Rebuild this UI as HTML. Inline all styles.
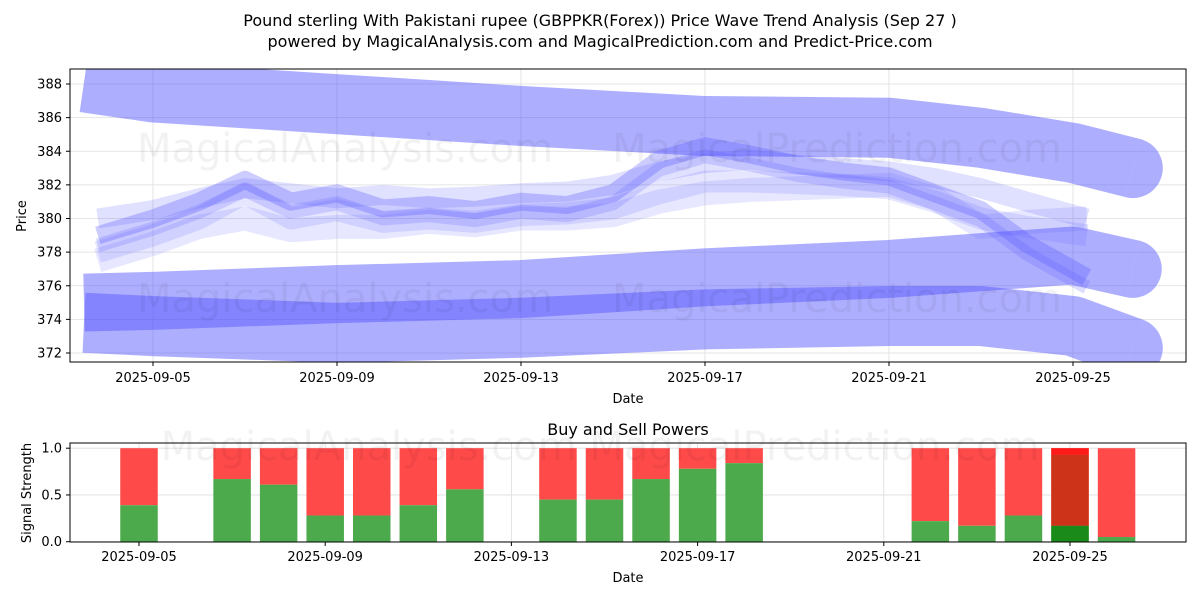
<!DOCTYPE html>
<html><head><meta charset="utf-8"><style>
body{margin:0;background:#fff;font-family:"Liberation Sans","DejaVu Sans",sans-serif}
svg text{font-family:"DejaVu Sans","Liberation Sans",sans-serif}
</style></head><body>
<svg id="c" width="1200" height="600" xmlns="http://www.w3.org/2000/svg">
<text x="600" y="26" font-size="16" text-anchor="middle">Pound sterling With Pakistani rupee (GBPPKR(Forex)) Price Wave Trend Analysis (Sep 27 )</text>
<text x="600" y="47" font-size="16" text-anchor="middle">powered by MagicalAnalysis.com and MagicalPrediction.com and Predict-Price.com</text>
<defs><clipPath id="cp1"><rect x="70" y="69" width="1116" height="293"/></clipPath></defs>
<g id="topPlot" clip-path="url(#cp1)"></g>
<g id="topAxes"></g>
<g id="bot"></g>
<text x="628" y="435" font-size="16" text-anchor="middle">Buy and Sell Powers</text>
</svg>
<script>
const NS="http://www.w3.org/2000/svg";
const bandDays=[3.5,5,9,13,17,21,23,25,26.3];
const bandA=[388.1,387.5,386.8,386.1,385.5,385.4,384.8,383.9,383];
const bandC=[375,375.1,375.5,375.8,376.5,377,377.4,377.8,377];
const bandD=[373.8,373.6,373.2,373.5,374,374.2,374.2,373.6,372.3];
const waveDays=[3.8,5,6,7,8,9,10,11,12,13,14,15,16,17,18,19,20,21,22,23,24,25.3];
const wave1=[379,380,381,382.3,381,381.5,380.6,380.8,380.5,381,380.8,381.5,383.5,384.3,383.8,383.2,382.8,382.5,381.5,380.5,378.5,376.5];
const wave2=[380,380.5,381.2,381.8,381.5,381.2,381.4,381.2,381.3,381.5,381.6,382,382.8,383.3,383.5,383.2,383,382.8,382.4,381.8,381,380];
const wave3=[378,379,380,381.5,380,380.5,379.8,380,379.8,380.2,380.3,380.6,381.5,382.2,382.2,382.1,382,381.8,381,380,379.5,379];
const wave4=[377.5,378.5,379.5,380,379.3,379.5,379.5,379.8,379.6,380,380,380.2,381,381.5,381.7,381.8,381.9,382,381.2,379.5,379.8,380];
const barDays=[5,7,8,9,10,11,12,14,15,16,17,18,22,23,24,25,26];
const buyVals=[0.39,0.67,0.61,0.28,0.28,0.39,0.56,0.45,0.45,0.67,0.78,0.84,0.22,0.17,0.28,0.17,0.05];
const yTicks=[372,374,376,378,380,382,384,386,388];
const xTickDays=[5,9,13,17,21,25];
const xTickLabels=["2025-09-05","2025-09-09","2025-09-13","2025-09-17","2025-09-21","2025-09-25"];
const bTicks=[0,0.5,1.0];
const bTickLabels=["0.0","0.5","1.0"];

const X=d=>153+(d-5)*46;
const XB=d=>139+(d-5)*46.55;
const Y=v=>84+(388-v)*269/16;
const YB=v=>541.7-v*93.5;
function el(tag,attrs,parent){const e=document.createElementNS(NS,tag);for(const k in attrs)e.setAttribute(k,attrs[k]);parent.appendChild(e);return e;}
const topG=document.getElementById('topPlot'),topAxesG=document.getElementById('topAxes'),botG=document.getElementById('bot');
yTicks.forEach(v=>{const l=el('line',{x1:70,x2:1186,y1:Y(v),y2:Y(v),stroke:'#ddd','stroke-width':0.8},topG);

});
xTickDays.forEach(d=>{const l=el('line',{x1:X(d),x2:X(d),y1:69,y2:362,stroke:'#ddd','stroke-width':0.8},topG);

});
function band(days,vals,w,op,name,capEnd){
 const p=el('polyline',{points:days.map((d,i)=>X(d)+','+Y(vals[i])).join(' '),fill:'none',stroke:'#5555ff','stroke-opacity':op,'stroke-width':w,'stroke-linejoin':'round','stroke-linecap':'butt'},topG);
 
 
 if(capEnd){const n=days.length-1;
  const c=el('path',{},topG);
  // half-disc cap at end, oriented along last segment
  const x1=X(days[n-1]),y1=Y(vals[n-1]),x2=X(days[n]),y2=Y(vals[n]);
  const L=Math.hypot(x2-x1,y2-y1),ux=(x2-x1)/L,uy=(y2-y1)/L,r=w/2;
  const ax=x2-uy*r,ay=y2+ux*r,bx=x2+uy*r,by=y2-ux*r;
  c.setAttribute('d',`M${ax},${ay} A${r},${r} 0 0 0 ${bx},${by} Z`);
  c.setAttribute('fill','#5555ff');c.setAttribute('fill-opacity',op);
  
  }
}
band(bandDays,bandA,60,0.48,'wave-band-upper',true);
band(bandDays,bandC,58,0.48,'wave-band-middle',true);
band(bandDays,bandD,60,0.48,'wave-band-lower',true);
band(waveDays,wave3,22,0.15,'wave-line-3');
band(waveDays,wave4,24,0.14,'wave-line-4');
band(waveDays,wave2,20,0.18,'wave-line-2');
band(waveDays,wave1,18,0.3,'wave-line-1');
band(waveDays,wave1.map(v=>v-0.6),14,0.2,'wave-line-5');
[[345,162],[837,162],[345,312],[837,312]].forEach((p,i)=>{const t=el('text',{x:p[0],y:p[1],'font-size':40,'text-anchor':'middle',fill:'#000','fill-opacity':0.05},topG);
t.textContent=i%2?'MagicalPrediction.com':'MagicalAnalysis.com';

});
el('rect',{x:70,y:69,width:1116,height:293,fill:'none',stroke:'#000','stroke-width':1},topAxesG);
yTicks.forEach(v=>{el('line',{x1:66,x2:70,y1:Y(v),y2:Y(v),stroke:'#000'},topAxesG);
const t=el('text',{x:62,y:Y(v)+4.5,'font-size':13,'text-anchor':'end'},topAxesG);t.textContent=v;

});
xTickDays.forEach((d,i)=>{el('line',{x1:X(d),x2:X(d),y1:362,y2:366,stroke:'#000'},topAxesG);
const t=el('text',{x:X(d),y:382,'font-size':13,'text-anchor':'middle'},topAxesG);t.textContent=xTickLabels[i];

});
let tx=el('text',{x:628,y:403,'font-size':13,'text-anchor':'middle'},topAxesG);tx.textContent='Date';


tx=el('text',{x:26,y:216,'font-size':13,'text-anchor':'middle',transform:'rotate(-90 26 216)'},topAxesG);tx.textContent='Price';


bTicks.forEach(v=>{const l=el('line',{x1:70,x2:1186,y1:YB(v),y2:YB(v),stroke:'#ddd','stroke-width':0.8},botG);

});
xTickDays.forEach(d=>{const l=el('line',{x1:XB(d),x2:XB(d),y1:443,y2:542,stroke:'#ddd','stroke-width':0.8},botG);

});
barDays.forEach((d,i)=>{const cx=XB(d),w=37.5;
 const s=el('rect',{x:cx-w/2,y:YB(1),width:w,height:YB(buyVals[i])-YB(1),fill:'#ff4a4a'},botG);
 
 
 const b=el('rect',{x:cx-w/2,y:YB(buyVals[i]),width:w,height:YB(0)-YB(buyVals[i]),fill:'#4caa4c'},botG);
 
 
 if(d===25){const o=el('rect',{x:cx-w/2,y:YB(0.93),width:w,height:YB(buyVals[i])-YB(0.93),fill:'#cc3318'},botG);
 
 
 const r=el('rect',{x:cx-w/2,y:YB(1),width:w,height:YB(0.93)-YB(1),fill:'#ff1a1a'},botG);
 
 
 const g=el('rect',{x:cx-w/2,y:YB(buyVals[i]),width:w,height:YB(0)-YB(buyVals[i]),fill:'#1a8a1a'},botG);
 
 }
});
tx=el('text',{x:600,y:460,'font-size':40,'text-anchor':'middle',fill:'#000','fill-opacity':0.05},botG);tx.textContent='MagicalAnalysis.com     MagicalPrediction.com';


el('rect',{x:70,y:443,width:1116,height:99,fill:'none',stroke:'#000'},botG);
bTicks.forEach((v,i)=>{el('line',{x1:66,x2:70,y1:YB(v),y2:YB(v),stroke:'#000'},botG);
const tt=el('text',{x:62,y:YB(v)+4.5,'font-size':13,'text-anchor':'end'},botG);tt.textContent=bTickLabels[i];

});
xTickDays.forEach((d,i)=>{el('line',{x1:XB(d),x2:XB(d),y1:542,y2:546,stroke:'#000'},botG);
const tt=el('text',{x:XB(d),y:561,'font-size':13,'text-anchor':'middle'},botG);tt.textContent=xTickLabels[i];

});
tx=el('text',{x:628,y:582,'font-size':13,'text-anchor':'middle'},botG);tx.textContent='Date';


tx=el('text',{x:31,y:493,'font-size':13,'text-anchor':'middle',transform:'rotate(-90 31 493)'},botG);tx.textContent='Signal Strength';


</script>
</body></html>
